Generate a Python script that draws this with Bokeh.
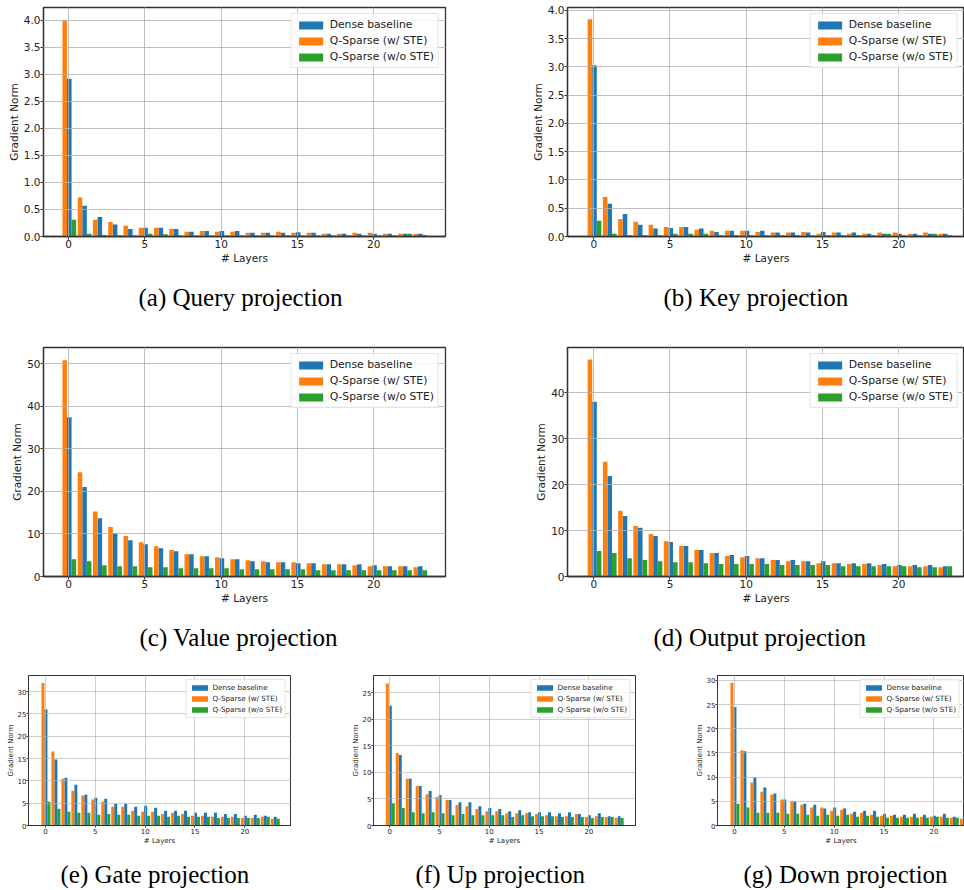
from bokeh.plotting import figure
from bokeh.models import Range1d, FixedTicker, PrintfTickFormatter, Title, ColumnDataSource
from bokeh.transform import dodge
from bokeh.layouts import column, row
from bokeh.embed import file_html
from bokeh.resources import INLINE

layers = list(range(24))
x_ticks = [0, 5, 10, 15, 20]
series_names = ["Dense baseline", "Q-Sparse (w/ STE)", "Q-Sparse (w/o STE)"]
series_colors = ["#1f77b4", "#ff7f0e", "#2ca02c"]

query_dense = [2.92, 0.57, 0.36, 0.22, 0.14, 0.16, 0.16, 0.14, 0.09, 0.10, 0.10, 0.10, 0.07, 0.07, 0.07, 0.08, 0.07, 0.05, 0.05, 0.05, 0.05, 0.05, 0.05, 0.05]
query_ste = [4.00, 0.72, 0.31, 0.27, 0.20, 0.16, 0.16, 0.14, 0.09, 0.10, 0.09, 0.09, 0.07, 0.07, 0.09, 0.07, 0.07, 0.05, 0.05, 0.07, 0.07, 0.05, 0.05, 0.05]
query_nste = [0.31, 0.05, 0.03, 0.025, 0.02, 0.05, 0.04, 0.02, 0.02, 0.02, 0.02, 0.02, 0.02, 0.02, 0.02, 0.02, 0.02, 0.02, 0.02, 0.02, 0.02, 0.02, 0.05, 0.03]

key_dense = [3.03, 0.58, 0.40, 0.21, 0.14, 0.15, 0.17, 0.14, 0.08, 0.10, 0.10, 0.10, 0.07, 0.07, 0.07, 0.08, 0.07, 0.07, 0.05, 0.05, 0.05, 0.05, 0.05, 0.05]
key_ste = [3.84, 0.70, 0.31, 0.26, 0.21, 0.17, 0.17, 0.12, 0.10, 0.10, 0.10, 0.08, 0.07, 0.07, 0.08, 0.05, 0.07, 0.05, 0.05, 0.07, 0.07, 0.05, 0.07, 0.05]
key_nste = [0.28, 0.05, 0.02, 0.02, 0.02, 0.05, 0.05, 0.05, 0.02, 0.02, 0.02, 0.02, 0.02, 0.02, 0.02, 0.02, 0.02, 0.02, 0.02, 0.05, 0.02, 0.02, 0.05, 0.02]

value_dense = [37.4, 21.0, 13.7, 10.2, 8.5, 7.6, 6.65, 5.95, 5.24, 4.77, 4.3, 4.07, 3.6, 3.36, 3.36, 3.13, 3.13, 2.9, 2.9, 2.9, 2.66, 2.43, 2.43, 2.43]
value_ste = [50.8, 24.5, 15.3, 11.6, 9.5, 8.06, 7.1, 6.2, 5.24, 4.77, 4.54, 4.07, 3.83, 3.6, 3.36, 3.36, 3.13, 2.9, 2.9, 2.66, 2.43, 2.43, 2.43, 2.2]
value_nste = [4.07, 3.6, 2.66, 2.4, 2.4, 2.2, 2.2, 1.96, 1.96, 1.96, 1.96, 1.72, 1.72, 1.72, 1.72, 1.72, 1.49, 1.49, 1.49, 1.49, 1.49, 1.49, 1.49, 1.49]

output_dense = [38.1, 21.9, 13.2, 10.6, 8.8, 7.5, 6.63, 5.76, 5.1, 4.66, 4.44, 4.0, 3.57, 3.57, 3.35, 3.35, 2.9, 2.9, 2.9, 2.7, 2.48, 2.48, 2.48, 2.26]
output_ste = [47.3, 25.0, 14.3, 11.0, 9.25, 7.7, 6.63, 5.76, 5.1, 4.44, 4.2, 4.0, 3.57, 3.35, 3.35, 2.9, 2.9, 2.7, 2.7, 2.48, 2.26, 2.26, 2.26, 2.04]
output_nste = [5.54, 5.1, 4.0, 3.57, 3.35, 3.13, 3.13, 2.9, 2.7, 2.7, 2.7, 2.7, 2.48, 2.48, 2.48, 2.48, 2.26, 2.26, 2.26, 2.26, 2.26, 2.04, 2.04, 2.26]

gate_dense = [26.0, 14.8, 10.7, 9.15, 6.9, 6.2, 6.0, 4.9, 4.9, 4.2, 4.4, 4.0, 3.3, 3.3, 3.3, 2.85, 2.85, 2.85, 2.6, 2.6, 2.2, 2.4, 2.2, 1.95]
gate_ste = [31.9, 16.6, 10.5, 7.8, 6.7, 5.8, 5.3, 4.2, 4.2, 3.3, 3.1, 3.1, 2.6, 2.85, 2.6, 2.2, 2.2, 1.95, 1.95, 1.95, 1.7, 1.7, 1.95, 1.5]
gate_nste = [5.3, 3.75, 3.1, 2.85, 2.85, 2.4, 2.6, 2.4, 2.4, 2.2, 2.2, 2.2, 1.95, 2.2, 1.95, 1.95, 1.95, 1.7, 1.7, 1.7, 1.7, 1.7, 1.95, 1.5]

up_dense = [22.6, 13.3, 8.8, 7.45, 6.5, 5.75, 4.8, 4.4, 4.4, 3.65, 3.3, 3.1, 2.7, 2.9, 2.5, 2.5, 2.5, 2.3, 2.5, 2.15, 1.95, 2.3, 1.75, 1.75]
up_ste = [26.8, 13.7, 8.8, 7.45, 5.9, 5.4, 4.8, 3.85, 3.65, 3.1, 2.7, 2.7, 2.3, 2.3, 2.3, 2.15, 1.95, 1.75, 1.75, 2.15, 1.6, 1.75, 1.6, 1.4]
up_nste = [4.2, 3.3, 2.5, 2.3, 2.5, 2.3, 1.95, 2.15, 1.95, 1.95, 1.95, 1.95, 1.6, 1.95, 1.75, 1.75, 1.75, 1.6, 1.6, 1.6, 1.4, 1.6, 1.6, 1.4]

down_dense = [24.5, 15.35, 9.9, 7.85, 6.6, 5.35, 4.95, 4.5, 4.3, 3.5, 3.7, 3.5, 2.85, 3.05, 3.05, 2.45, 2.2, 2.2, 2.45, 2.2, 2.0, 2.45, 1.8, 1.8]
down_ste = [29.5, 15.55, 8.9, 7.0, 6.4, 5.35, 4.95, 4.3, 3.7, 3.7, 3.05, 3.25, 2.45, 2.65, 2.2, 2.0, 2.0, 1.8, 1.8, 1.8, 1.8, 1.8, 1.6, 1.4]
down_nste = [4.5, 3.7, 2.65, 2.65, 2.65, 2.45, 2.45, 2.2, 2.0, 2.2, 2.0, 2.2, 1.8, 2.0, 1.8, 1.6, 1.6, 1.6, 1.6, 1.6, 1.8, 1.6, 1.6, 1.6]

SANS = "DejaVu Sans"
SERIF = "Liberation Serif"
SPINE = "#333333"


def panel(dense, ste, nste, caption, width, height, bl, br, bt, bb,
          x0, x1, ymax, yticks, yfmt, s, gap, cap_offset):
    big = s == 1
    p = figure(width=width, height=height,
               x_range=Range1d(x0, x1), y_range=Range1d(0, ymax),
               output_backend="svg", toolbar_location=None,
               min_border_left=bl, min_border_right=br,
               min_border_top=bt, min_border_bottom=bb)
    src = ColumnDataSource(dict(layer=layers, dense=dense, ste=ste, nste=nste))
    bw = 0.3
    p.vbar(x=dodge("layer", 0.05, range=p.x_range), top="dense", width=bw, source=src,
           fill_color=series_colors[0], line_color=None, legend_label=series_names[0])
    p.vbar(x=dodge("layer", -0.25, range=p.x_range), top="ste", width=bw, source=src,
           fill_color=series_colors[1], line_color=None, legend_label=series_names[1])
    p.vbar(x=dodge("layer", 0.35, range=p.x_range), top="nste", width=bw, source=src,
           fill_color=series_colors[2], line_color=None, legend_label=series_names[2])

    tick_fs = f"{10.5 * s:.1f}px"
    p.xaxis.ticker = FixedTicker(ticks=x_ticks)
    p.yaxis.ticker = FixedTicker(ticks=yticks)
    p.yaxis.formatter = PrintfTickFormatter(format=yfmt)
    p.xaxis.axis_label = "# Layers"
    p.yaxis.axis_label = "Gradient Norm"
    for ax in (p.xaxis[0], p.yaxis[0]):
        ax.major_label_text_font = SANS
        ax.major_label_text_font_size = tick_fs
        ax.major_label_text_color = "#222222"
        ax.axis_label_text_font = SANS
        ax.axis_label_text_font_size = tick_fs
        ax.axis_label_text_font_style = "normal"
        ax.axis_label_text_color = "#222222"
        ax.minor_tick_line_color = None
        ax.major_tick_in = 0
        ax.major_tick_out = 3 if big else 2
        ax.major_tick_line_color = SPINE
        ax.axis_line_color = SPINE
        ax.axis_line_width = 1.3 if big else 1.0
        ax.major_label_standoff = 0
        ax.axis_label_standoff = 1 if big else 0

    p.outline_line_color = SPINE
    p.outline_line_width = 1.3 if big else 1.0
    p.grid.grid_line_color = "#b0b0b0"
    p.grid.grid_line_width = 1.0 if big else 0.8
    p.grid.grid_line_alpha = 0.8
    p.grid.level = "guide"
    p.background_fill_color = "white"
    p.border_fill_color = "white"

    lg = p.legend[0]
    lg.location = "top_right"
    lg.label_text_font = SANS
    lg.label_text_font_size = f"{10.8 * s:.1f}px"
    lg.label_text_color = "#222222"
    lg.glyph_width = round(30 * s)
    lg.glyph_height = round(10 * s)
    lg.label_height = round(13 * s)
    lg.spacing = round(3 * s)
    lg.padding = round(4 * s)
    lg.margin = round(6 * s)
    lg.label_standoff = round(4 * s)
    lg.border_line_color = "#cccccc"
    lg.border_line_width = 1
    lg.background_fill_alpha = 0.85

    spacer = Title(text=" ", text_font_size="1px", standoff=gap)
    p.add_layout(spacer, "below")
    t = Title(text=caption, align="left", offset=cap_offset, vertical_align="top",
              text_font=SERIF, text_font_size="25px",
              text_font_style="normal", text_color="black", standoff=0)
    p.add_layout(t, "below")
    return p


ticks_small = [0, 0.5, 1, 1.5, 2, 2.5, 3, 3.5, 4]

pa = panel(query_dense, query_ste, query_nste, "(a) Query projection",
           480, 340, 43, 35, 7, 104, -1.64, 24.7, 4.24, ticks_small, "%.1f", 1.0, 14, 95)
pb = panel(key_dense, key_ste, key_nste, "(b) Key projection",
           484, 340, 87, 0, 7, 104, -1.72, 24.31, 4.05, ticks_small, "%.1f", 1.0, 14, 96)
pc = panel(value_dense, value_ste, value_nste, "(c) Value projection",
           480, 328, 43, 35, 7, 92, -1.64, 24.7, 53.8, [0, 10, 20, 30, 40, 50], "%d", 1.0, 14, 96)
pd = panel(output_dense, output_ste, output_nste, "(d) Output projection",
           484, 328, 87, 0, 7, 92, -1.72, 24.31, 49.9, [0, 10, 20, 30, 40], "%d", 1.0, 14, 86)
pe = panel(gate_dense, gate_ste, gate_nste, "(e) Gate projection",
           337, 221, 28, 47, 7, 64, -1.7, 24.58, 33.6, [0, 5, 10, 15, 20, 25, 30], "%d", 0.67, 10, 32)
pf = panel(up_dense, up_ste, up_nste, "(f) Up projection",
           333, 221, 36, 35, 7, 64, -1.64, 24.69, 28.3, [0, 5, 10, 15, 20, 25], "%d", 0.67, 10, 42)
pg = panel(down_dense, down_ste, down_nste, "(g) Down projection",
           294, 221, 47, 0, 7, 64, -1.7, 23.07, 31.0, [0, 5, 10, 15, 20, 25, 30], "%d", 0.67, 10, 26)

layout = column(row(pa, pb, spacing=0), row(pc, pd, spacing=0), row(pe, pf, pg, spacing=0), spacing=0)

with open("out.html", "w") as f:
    f.write(file_html(layout, INLINE))
